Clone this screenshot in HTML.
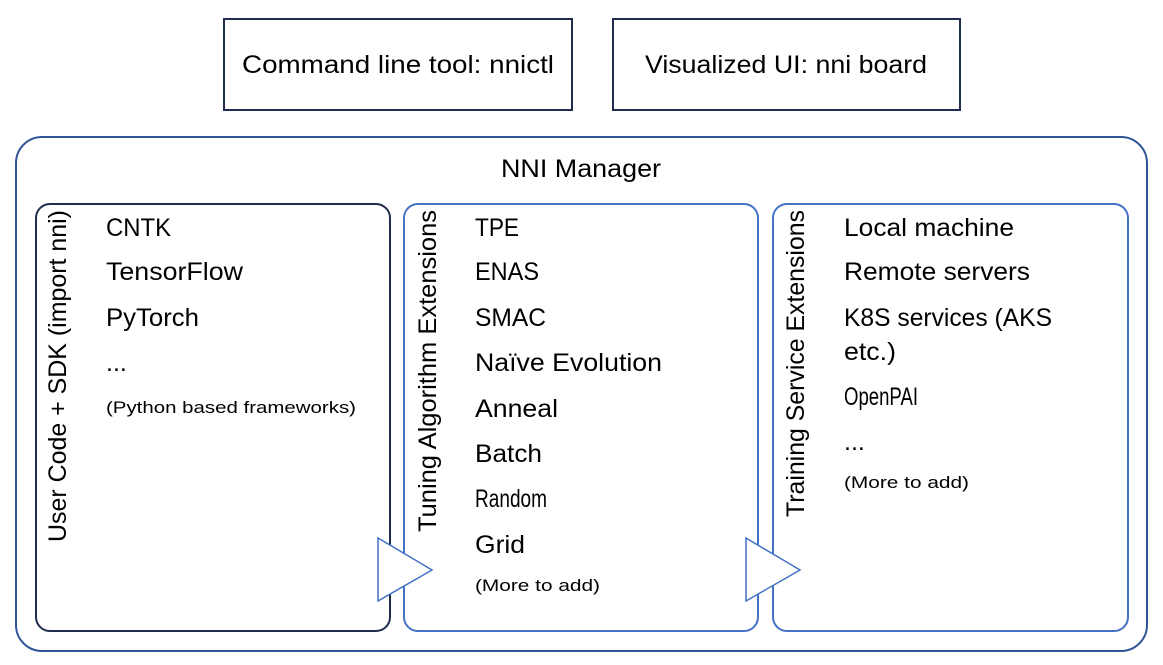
<!DOCTYPE html>
<html><head><meta charset="utf-8"><style>
html,body{margin:0;padding:0;background:#fff;}
svg{display:block;}
text{font-family:"Liberation Sans",sans-serif;fill:#000;}
.b{font-size:25px;}
.s{font-size:17px;}
</style></head><body>
<svg width="1163" height="665" viewBox="0 0 1163 665" xmlns="http://www.w3.org/2000/svg">
<rect x="224" y="19" width="348" height="91" fill="#fff" stroke="#1f2d4e" stroke-width="2"/>
<text class="b" x="242" y="73" textLength="312" lengthAdjust="spacingAndGlyphs">Command line tool: nnictl</text>
<rect x="613" y="19" width="347" height="91" fill="#fff" stroke="#1f2d4e" stroke-width="2"/>
<text class="b" x="645" y="73" textLength="282" lengthAdjust="spacingAndGlyphs">Visualized UI: nni board</text>
<rect x="16" y="137" width="1131" height="514" rx="26" fill="#fff" stroke="#2f5597" stroke-width="2"/>
<text class="b" x="501" y="177" textLength="160" lengthAdjust="spacingAndGlyphs">NNI Manager</text>
<rect x="36" y="204" width="354" height="427" rx="14" fill="#fff" stroke="#1f2d4e" stroke-width="2"/>
<rect x="404" y="204" width="354" height="427" rx="14" fill="#fff" stroke="#4472c4" stroke-width="2"/>
<rect x="773" y="204" width="355" height="427" rx="14" fill="#fff" stroke="#4472c4" stroke-width="2"/>
<text class="b" transform="translate(66,542) rotate(-90)" textLength="332" lengthAdjust="spacingAndGlyphs">User Code + SDK (import nni)</text>
<text class="b" transform="translate(436,532) rotate(-90)" textLength="322" lengthAdjust="spacingAndGlyphs">Tuning Algorithm Extensions</text>
<text class="b" transform="translate(804,517) rotate(-90)" textLength="307" lengthAdjust="spacingAndGlyphs">Training Service Extensions</text>
<text class="b" x="106" y="236" textLength="65" lengthAdjust="spacingAndGlyphs">CNTK</text>
<text class="b" x="106" y="280" textLength="137" lengthAdjust="spacingAndGlyphs">TensorFlow</text>
<text class="b" x="106" y="326" textLength="93" lengthAdjust="spacingAndGlyphs">PyTorch</text>
<text class="b" x="106" y="371">...</text>
<text class="s" x="106" y="413" textLength="250" lengthAdjust="spacingAndGlyphs">(Python based frameworks)</text>
<text class="b" x="475" y="236" textLength="44" lengthAdjust="spacingAndGlyphs">TPE</text>
<text class="b" x="475" y="280" textLength="64" lengthAdjust="spacingAndGlyphs">ENAS</text>
<text class="b" x="475" y="326" textLength="71" lengthAdjust="spacingAndGlyphs">SMAC</text>
<text class="b" x="475" y="371" textLength="187" lengthAdjust="spacingAndGlyphs">Naïve Evolution</text>
<text class="b" x="475" y="417" textLength="83" lengthAdjust="spacingAndGlyphs">Anneal</text>
<text class="b" x="475" y="462" textLength="67" lengthAdjust="spacingAndGlyphs">Batch</text>
<text class="b" x="475" y="507" textLength="72" lengthAdjust="spacingAndGlyphs">Random</text>
<text class="b" x="475" y="553" textLength="50" lengthAdjust="spacingAndGlyphs">Grid</text>
<text class="s" x="475" y="591" textLength="125" lengthAdjust="spacingAndGlyphs">(More to add)</text>
<text class="b" x="844" y="236" textLength="170" lengthAdjust="spacingAndGlyphs">Local machine</text>
<text class="b" x="844" y="280" textLength="186" lengthAdjust="spacingAndGlyphs">Remote servers</text>
<text class="b" x="844" y="326" textLength="208" lengthAdjust="spacingAndGlyphs">K8S services (AKS</text>
<text class="b" x="844" y="360" textLength="52" lengthAdjust="spacingAndGlyphs">etc.)</text>
<text class="b" x="844" y="405" textLength="74" lengthAdjust="spacingAndGlyphs">OpenPAI</text>
<text class="b" x="844" y="450">...</text>
<text class="s" x="844" y="488" textLength="125" lengthAdjust="spacingAndGlyphs">(More to add)</text>
<polygon points="378,538 432,570 378,601" fill="#fff" stroke="#4472c4" stroke-width="1.5"/>
<polygon points="746,538 800,570 746,601" fill="#fff" stroke="#4472c4" stroke-width="1.5"/>
</svg>
</body></html>
